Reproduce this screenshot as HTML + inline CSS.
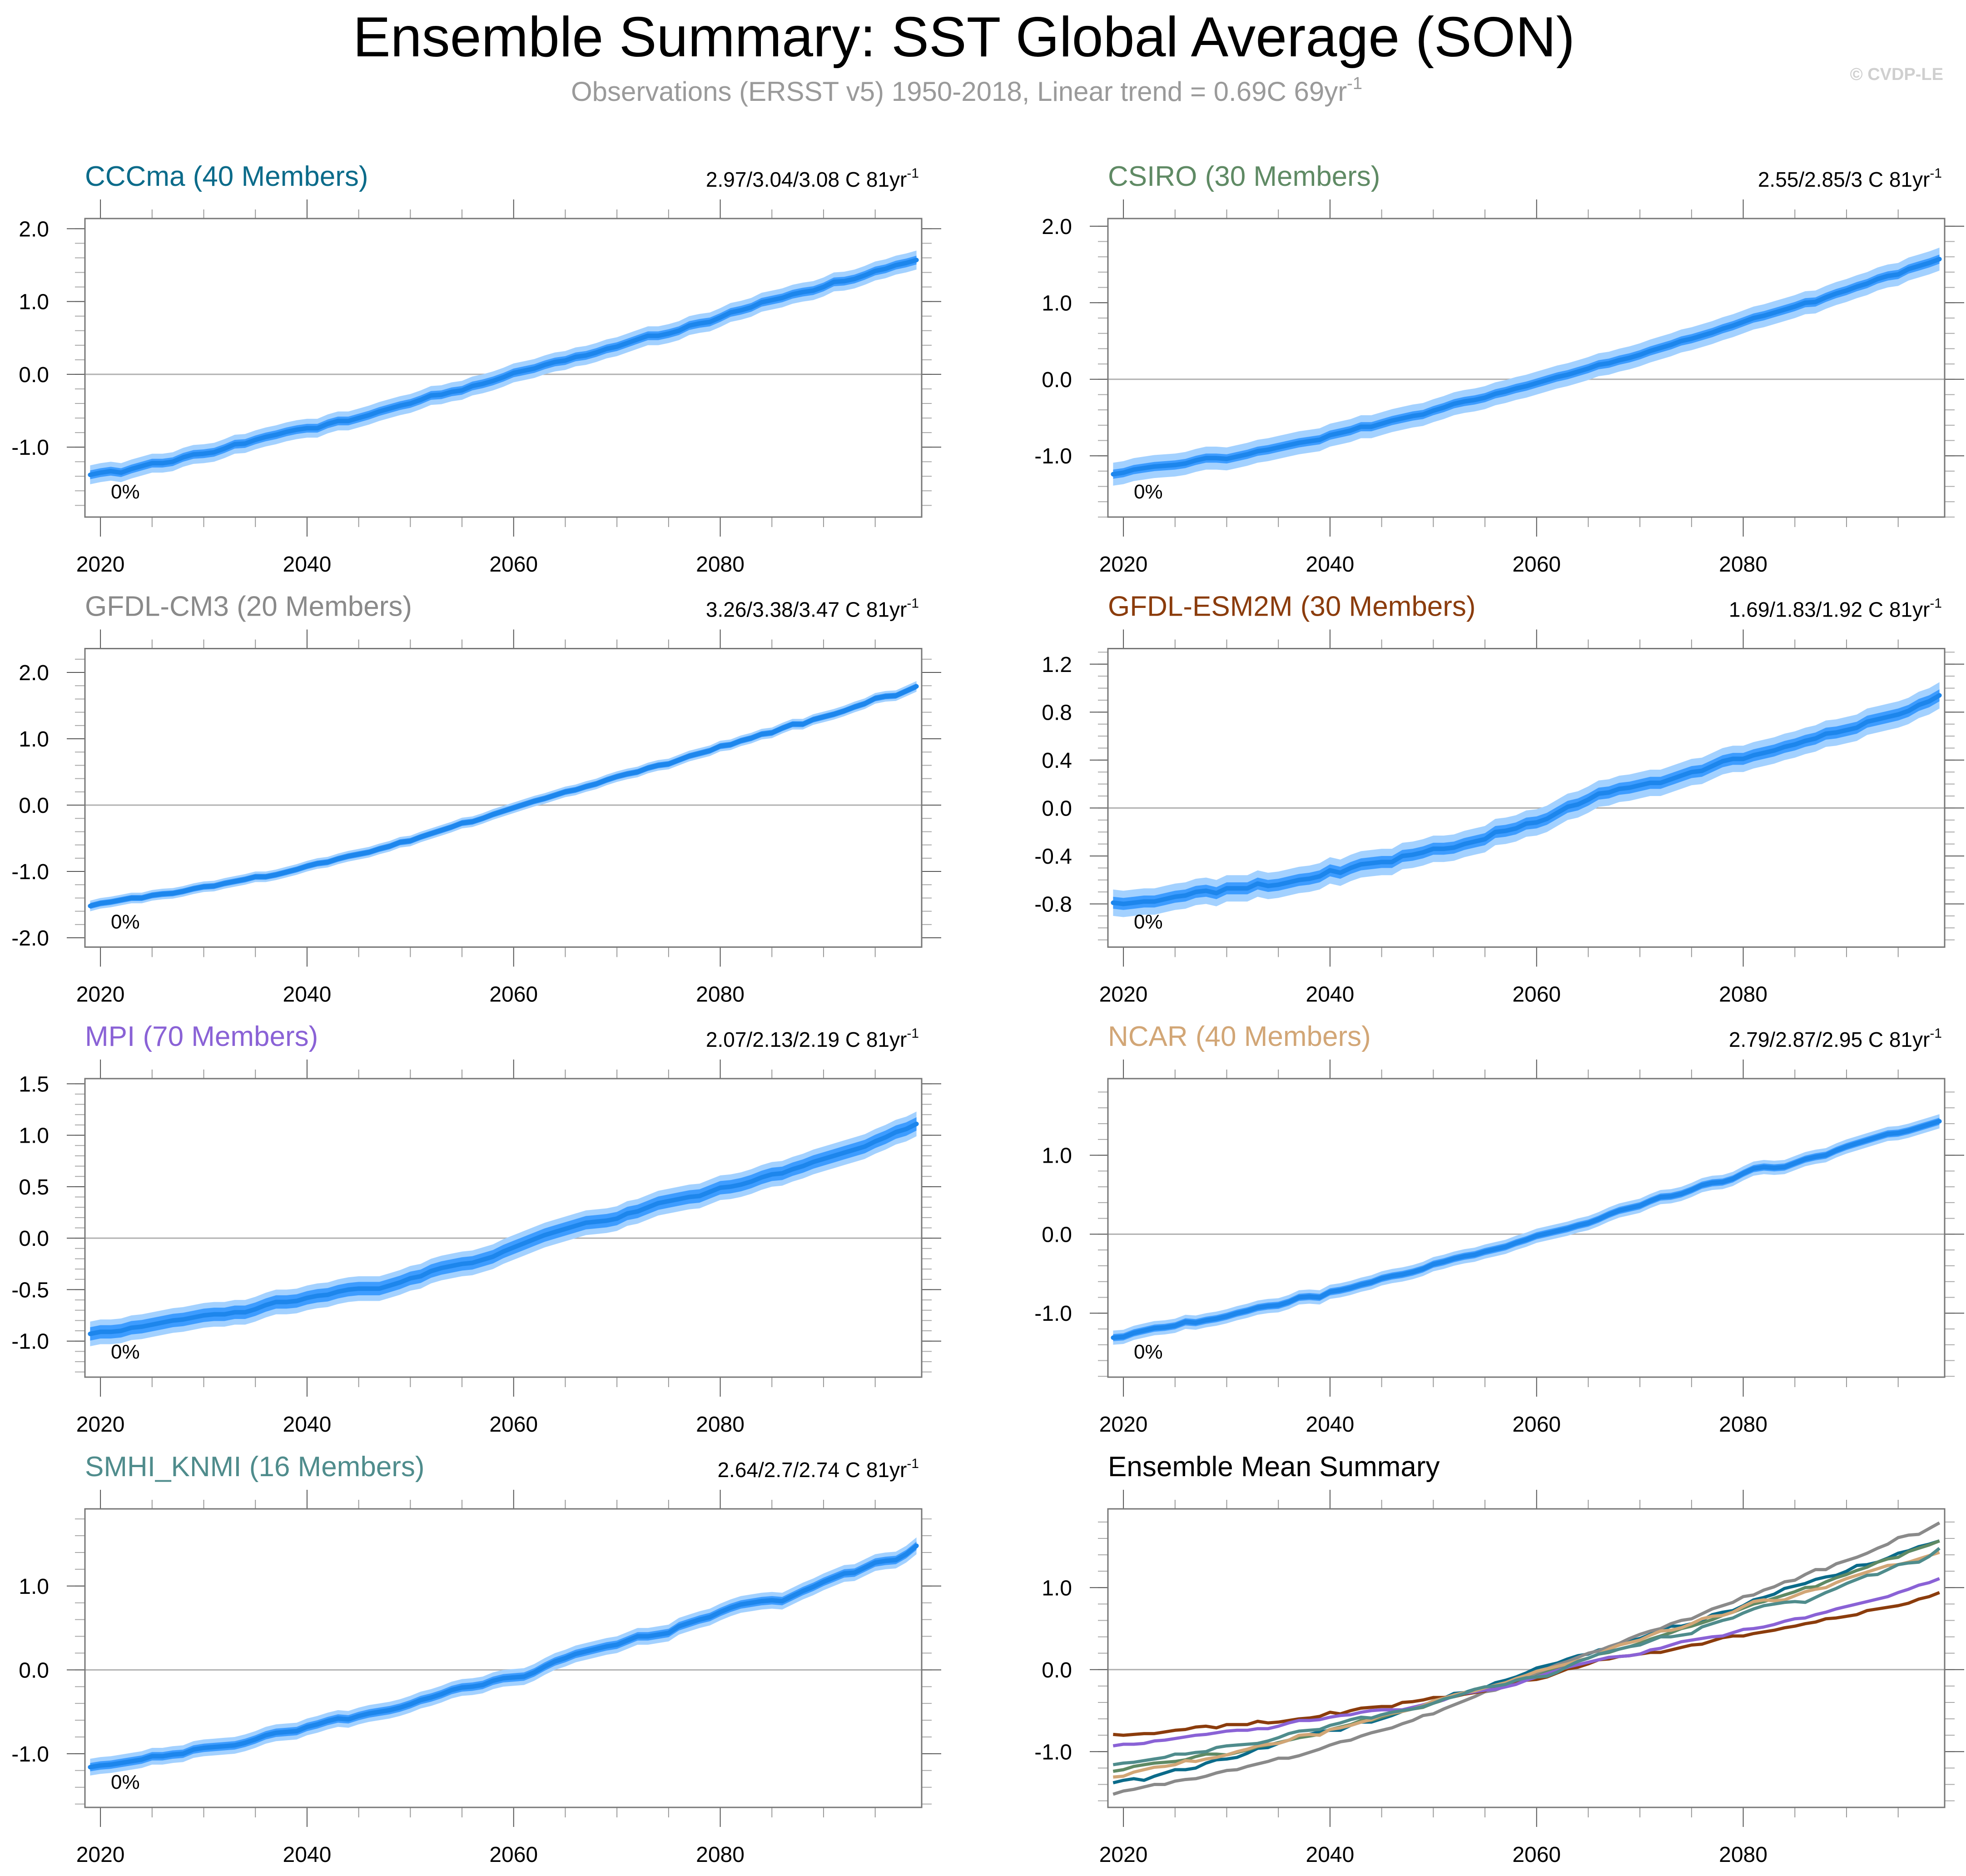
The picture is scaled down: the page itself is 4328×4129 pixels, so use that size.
<!DOCTYPE html>
<html><head><meta charset="utf-8"><title>Ensemble Summary: SST Global Average (SON)</title>
<style>html,body{margin:0;padding:0;background:#fff}svg{display:block}text{font-family:"Liberation Sans",Arial,sans-serif}</style>
</head><body>
<svg id="chart" xmlns="http://www.w3.org/2000/svg" width="4328" height="4129" viewBox="0 0 4328 4129">
<rect width="4328" height="4129" fill="#fff"/>
<text x="2122" y="124" font-size="124" text-anchor="middle" fill="#000">Ensemble Summary: SST Global Average (SON)</text>
<text x="2128" y="222" font-size="60" text-anchor="middle" fill="#9a9a9a">Observations (ERSST v5) 1950-2018, Linear trend = 0.69C 69yr<tspan font-size="38" dy="-26">-1</tspan></text>
<text x="4278" y="176" font-size="38" text-anchor="end" fill="#cfcfcf" font-weight="bold">© CVDP-LE</text>
<g id="panels"></g>
</svg>
<script>
const years = [];
for (let y = 2019; y <= 2099; y++) years.push(y);
const xTickLabels = [2020, 2040, 2060, 2080];
const modelNames = ["CCCma","CSIRO","GFDL-CM3","GFDL-ESM2M","MPI","NCAR","SMHI_KNMI"];
const memberCounts = [40,30,20,30,70,40,16];
const trendLabels = ["2.97/3.04/3.08","2.55/2.85/3","3.26/3.38/3.47","1.69/1.83/1.92","2.07/2.13/2.19","2.79/2.87/2.95","2.64/2.7/2.74"];
const innerSpread = [0.06,0.06,0.045,0.05,0.065,0.045,0.05];
const outerSpread = [0.13,0.15,0.08,0.11,0.12,0.09,0.10];
const meanCCCma = [-1.38,-1.35,-1.33,-1.35,-1.30,-1.26,-1.22,-1.22,-1.20,-1.14,
-1.10,-1.09,-1.07,-1.02,-0.96,-0.95,-0.90,-0.86,-0.83,-0.79,
-0.76,-0.74,-0.74,-0.68,-0.64,-0.64,-0.60,-0.56,-0.51,-0.47,
-0.43,-0.40,-0.35,-0.29,-0.28,-0.24,-0.22,-0.16,-0.13,-0.09,
-0.04,0.02,0.05,0.08,0.13,0.17,0.19,0.24,0.26,0.30,
0.35,0.38,0.43,0.48,0.53,0.53,0.56,0.60,0.67,0.70,
0.72,0.78,0.85,0.88,0.92,0.99,1.02,1.05,1.10,1.13,
1.15,1.20,1.27,1.28,1.31,1.36,1.42,1.45,1.50,1.53,1.57];
const meanCSIRO = [-1.24,-1.22,-1.18,-1.16,-1.14,-1.13,-1.12,-1.10,-1.06,-1.03,
-1.03,-1.04,-1.01,-0.98,-0.94,-0.92,-0.89,-0.86,-0.83,-0.81,
-0.79,-0.73,-0.70,-0.67,-0.62,-0.62,-0.58,-0.54,-0.51,-0.48,
-0.46,-0.41,-0.37,-0.32,-0.29,-0.27,-0.24,-0.19,-0.16,-0.12,
-0.09,-0.05,-0.01,0.03,0.06,0.10,0.14,0.19,0.21,0.25,
0.28,0.32,0.37,0.41,0.45,0.50,0.53,0.57,0.61,0.66,
0.70,0.75,0.80,0.83,0.87,0.91,0.95,1.00,1.01,1.07,
1.12,1.16,1.21,1.25,1.31,1.35,1.37,1.44,1.48,1.52,1.57];
const meanCM3 = [-1.52,-1.48,-1.46,-1.43,-1.40,-1.40,-1.36,-1.34,-1.33,-1.30,
-1.26,-1.23,-1.22,-1.18,-1.15,-1.12,-1.08,-1.08,-1.05,-1.01,
-0.97,-0.92,-0.88,-0.86,-0.81,-0.77,-0.74,-0.71,-0.66,-0.62,
-0.56,-0.54,-0.48,-0.43,-0.38,-0.33,-0.27,-0.25,-0.20,-0.14,
-0.09,-0.04,0.01,0.06,0.10,0.15,0.20,0.23,0.28,0.32,
0.38,0.43,0.47,0.50,0.56,0.60,0.62,0.68,0.74,0.78,
0.82,0.89,0.91,0.97,1.01,1.07,1.09,1.16,1.22,1.22,
1.29,1.33,1.37,1.42,1.48,1.53,1.61,1.64,1.65,1.72,1.79];
const meanESM2M = [-0.79,-0.80,-0.79,-0.78,-0.78,-0.76,-0.74,-0.73,-0.70,-0.69,
-0.71,-0.67,-0.67,-0.67,-0.63,-0.65,-0.64,-0.62,-0.60,-0.59,
-0.57,-0.52,-0.54,-0.50,-0.47,-0.46,-0.45,-0.45,-0.40,-0.39,
-0.37,-0.34,-0.34,-0.33,-0.30,-0.28,-0.26,-0.20,-0.19,-0.17,
-0.13,-0.12,-0.09,-0.04,0.01,0.03,0.07,0.12,0.13,0.16,
0.17,0.19,0.21,0.21,0.24,0.27,0.30,0.31,0.35,0.39,
0.41,0.41,0.44,0.46,0.48,0.51,0.53,0.56,0.58,0.62,
0.63,0.65,0.67,0.72,0.74,0.76,0.78,0.81,0.86,0.89,0.94];
const meanMPI = [-0.93,-0.91,-0.91,-0.90,-0.87,-0.86,-0.84,-0.82,-0.80,-0.79,
-0.77,-0.75,-0.74,-0.74,-0.72,-0.72,-0.69,-0.65,-0.62,-0.62,
-0.61,-0.58,-0.56,-0.55,-0.52,-0.50,-0.49,-0.49,-0.49,-0.46,
-0.43,-0.39,-0.37,-0.32,-0.29,-0.27,-0.25,-0.24,-0.21,-0.18,
-0.13,-0.09,-0.05,-0.01,0.03,0.06,0.09,0.12,0.15,0.16,
0.17,0.19,0.24,0.26,0.30,0.34,0.36,0.38,0.40,0.41,
0.45,0.49,0.50,0.52,0.55,0.59,0.62,0.63,0.67,0.70,
0.74,0.77,0.80,0.83,0.86,0.89,0.94,0.98,1.03,1.06,1.11];
const meanNCAR = [-1.31,-1.30,-1.25,-1.22,-1.19,-1.18,-1.16,-1.11,-1.12,-1.09,
-1.07,-1.04,-1.00,-0.97,-0.93,-0.91,-0.90,-0.86,-0.80,-0.79,
-0.80,-0.73,-0.71,-0.68,-0.64,-0.61,-0.56,-0.53,-0.51,-0.48,
-0.44,-0.38,-0.35,-0.31,-0.28,-0.26,-0.22,-0.19,-0.16,-0.11,
-0.07,-0.02,0.01,0.04,0.07,0.11,0.14,0.19,0.25,0.30,
0.33,0.36,0.42,0.47,0.48,0.51,0.56,0.62,0.65,0.66,
0.70,0.77,0.83,0.85,0.84,0.85,0.90,0.95,0.98,1.00,
1.06,1.11,1.15,1.19,1.23,1.27,1.28,1.31,1.35,1.39,1.43];
const meanSMHI = [-1.16,-1.14,-1.13,-1.11,-1.09,-1.07,-1.03,-1.03,-1.01,-1.00,
-0.95,-0.93,-0.92,-0.91,-0.90,-0.87,-0.83,-0.78,-0.75,-0.74,
-0.73,-0.68,-0.65,-0.61,-0.58,-0.59,-0.55,-0.52,-0.50,-0.48,
-0.45,-0.41,-0.36,-0.33,-0.29,-0.24,-0.21,-0.20,-0.18,-0.13,
-0.10,-0.09,-0.08,-0.03,0.04,0.10,0.14,0.19,0.22,0.25,
0.28,0.30,0.35,0.40,0.40,0.42,0.44,0.52,0.56,0.60,
0.63,0.69,0.74,0.78,0.80,0.82,0.83,0.82,0.88,0.94,
0.99,1.05,1.10,1.15,1.16,1.22,1.28,1.30,1.31,1.38,1.48];
const modelMeans = [meanCCCma, meanCSIRO, meanCM3, meanESM2M, meanMPI, meanNCAR, meanSMHI];
const modelColors = ["#0b6b8a","#5f8a64","#8a8a8a","#8b3c0c","#8a62d6","#d2a676","#4f8c8c"];
const yLabelSets = [[-1,0,1,2],[-1,0,1,2],[-2,-1,0,1,2],[-0.8,-0.4,0,0.4,0.8,1.2],[-1,-0.5,0,0.5,1,1.5],[-1,0,1],[-1,0,1],[-1,0,1]];
const yRanges = [[-1.96,2.14],[-1.80,2.10],[-2.14,2.36],[-1.16,1.33],[-1.35,1.55],[-1.81,1.97],[-1.64,1.92],[-1.68,1.96]];
const yMinorSteps = [0.2,0.2,0.2,0.1,0.1,0.2,0.2,0.2];

const NS = "http://www.w3.org/2000/svg";
const root = document.getElementById("panels");
function mk(tag, attrs, parent) {
  const e = document.createElementNS(NS, tag);
  for (const k in attrs) e.setAttribute(k, attrs[k]);
  (parent || root).appendChild(e);
  return e;
}
const colX = [187, 2439], W = 1842, rowY = [481, 1427.5, 2374, 3321], H = 657;
const X0 = 2018.5, X1 = 2099.5;

function drawPanel(p) {
  const L = colX[p % 2], T = rowY[Math.floor(p / 2)];
  const g = mk("g", {});
  
  
  const [ymin, ymax] = yRanges[p];
  const xs = v => L + (v - X0) / (X1 - X0) * W;
  const ys = v => T + H - (v - ymin) / (ymax - ymin) * H;
  const t = mk("text", {x: L, y: T - 72, "font-size": 62, fill: p < 7 ? modelColors[p] : "#000"}, g);
  t.textContent = p < 7 ? modelNames[p] + " (" + memberCounts[p] + " Members)" : "Ensemble Mean Summary";
  
  
  if (p < 7) {
    const r = mk("text", {x: L + W - 6, y: T - 70, "font-size": 46, "text-anchor": "end", fill: "#000"}, g);
    
    
    r.appendChild(document.createTextNode(trendLabels[p] + " C 81yr"));
    const s = mk("tspan", {"font-size": 30, dy: -20}, r);
    s.textContent = "-1";
  }
  for (let y = 2020; y <= 2099; y += 5) {
    const major = (y % 20 === 0);
    const x = xs(y);
    const tk = mk("line", {x1: x, x2: x, y1: T, y2: T - (major ? 42 : 20), stroke: major ? "#555" : "#999", "stroke-width": 2}, g);
    
    
    const tb = mk("line", {x1: x, x2: x, y1: T + H, y2: T + H + (major ? 43 : 22), stroke: major ? "#555" : "#999", "stroke-width": 2}, g);
    
    
  }
  xTickLabels.forEach(v => {
    const tl = mk("text", {x: xs(v), y: T + H + 120, "font-size": 48, "text-anchor": "middle", fill: "#000"}, g);
    tl.textContent = v;
    
    
  });
  const st = yMinorSteps[p];
  for (let k = Math.ceil(ymin / st - 1e-6); k * st <= ymax + 1e-9; k++) {
    const y = ys(k * st);
    const mt = mk("line", {x1: L - 22, x2: L, y1: y, y2: y, stroke: "#aaa", "stroke-width": 2}, g);
    
    
    const mr = mk("line", {x1: L + W, x2: L + W + 22, y1: y, y2: y, stroke: "#aaa", "stroke-width": 2}, g);
    
    
  }
  yLabelSets[p].forEach(v => {
    const y = ys(v);
    const a = mk("line", {x1: L - 40, x2: L, y1: y, y2: y, stroke: "#555", "stroke-width": 2}, g);
    
    
    const b = mk("line", {x1: L + W, x2: L + W + 43, y1: y, y2: y, stroke: "#555", "stroke-width": 2}, g);
    
    
    const tl = mk("text", {x: L - 79, y: y + 17, "font-size": 48, "text-anchor": "end", fill: "#000"}, g);
    tl.textContent = v.toFixed(1);
    
    
  });
  const z = mk("line", {x1: L, x2: L + W, y1: ys(0), y2: ys(0), stroke: "#b0b0b0", "stroke-width": 3}, g);
  
  
  if (p < 7) {
    const m = modelMeans[p];
    const band = (w) => {
      let d = "";
      years.forEach((yr, i) => { d += (i ? "L" : "M") + xs(yr).toFixed(1) + "," + ys(m[i] + w).toFixed(1); });
      for (let i = years.length - 1; i >= 0; i--) d += "L" + xs(years[i]).toFixed(1) + "," + ys(m[i] - w).toFixed(1);
      return d + "Z";
    };
    const o = mk("path", {d: band(outerSpread[p]), fill: "#a3d1ff"}, g);
    
    
    const inn = mk("path", {d: band(innerSpread[p]), fill: "#3d9cff"}, g);
    
    
    const ln = mk("polyline", {points: years.map((yr, i) => xs(yr).toFixed(1) + "," + ys(m[i]).toFixed(1)).join(" "), fill: "none", stroke: "#1d86ec", "stroke-width": 10, "stroke-linejoin": "round", "stroke-linecap": "round"}, g);
    
    
    const pc = mk("text", {x: L + 57, y: T + H - 41, "font-size": 44, fill: "#000"}, g);
    pc.textContent = "0%";
    
    
  } else {
    modelMeans.forEach((m, k) => {
      const ln = mk("polyline", {points: years.map((yr, i) => xs(yr).toFixed(1) + "," + ys(m[i]).toFixed(1)).join(" "), fill: "none", stroke: modelColors[k], "stroke-width": 7, "stroke-linejoin": "round"}, g);
      
      
    });
  }
  const box = mk("rect", {x: L, y: T, width: W, height: H, fill: "none", stroke: "#777", "stroke-width": 3}, g);
  
  
}
for (let p = 0; p < 8; p++) drawPanel(p);
</script>
</body></html>
